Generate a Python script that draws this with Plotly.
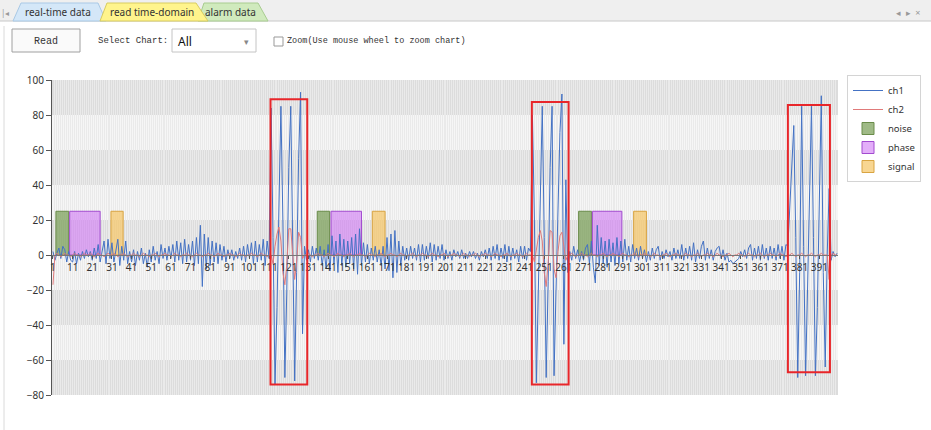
import plotly.graph_objects as go

# sample index 1..400
points = list(range(1, 401))

ch1 = [
    2, -3, 1, 4, -2, 5, 3, -4, 2, -3, -4, 2, -5, 1, -3, 2, -2, 3, -1, 2,
    -3, 4, -2, 6, -4, 3, 8, -5, 9, -2, 7, -4, 3, 9, -6, 5, -3, 8, -5, 2,
    -4, 3, -6, 2, -3, 4, -5, 1, -7, 3, -4, 5, -3, 2, -5, 6, -2, 4, -3, 5,
    -2, 6, -4, 8, -3, 7, -5, 9, -4, 6, -3, 8, -6, 10, -5, 17, -18, 12, -8, 10,
    -6, 8, -4, 7, -5, 6, -3, 5, -4, 3, -2, 3, -3, 2, -2, 4, -3, 5, -4, 6,
    -2, 7, -5, 8, -4, 6, -3, 9, -6, 8, -2, 84, 10, -74, -30, 40, 85, 20, -70, -20,
    50, 85, 0, -72, -10, 55, 93, -45, 5, -3, 3, -4, 5, -2, 4, -3, 5, -6, 3, -8,
    6, -9, 11, -5, 8, -10, 12, -6, 9, -7, 8, -5, 10, -8, 12, -11, 15, -6, 7, -4,
    6, -5, 4, -3, 5, -4, 3, -6, 5, -8, 10, -9, 12, -13, 14, -10, 8, -6, 5, -3,
    4, -3, 5, -2, 4, -3, 6, -4, 6, -3, 5, -2, 7, -4, 6, -3, 5, -2, 6, -3,
    3, -2, 2, -3, 3, -1, 2, -2, 3, -2, 1, -2, 2, -1, 2, -2, 1, -3, 2, -1,
    3, -2, 4, -3, 5, -2, 6, -3, 4, -2, 6, -4, 5, -3, 4, -2, 3, -4, 5, -2,
    5, -3, 4, 2, 80, 20, -73, -20, 40, 85, 10, -70, -15, 50, 85, -69, -20, 30, 70, 92,
    -51, 43, -10, 2, -3, 5, -2, 3, -4, 2, -3, 4, 6, -5, 8, -7, -16, 17, -6, 10,
    -5, 8, -7, 9, -4, 7, -6, 10, -5, 8, -4, 9, -3, 5, -4, 6, -2, 4, -3, 5,
    -2, 3, -4, 2, -3, 4, -2, 3, 5, -3, 2, -2, 3, -1, 2, -3, 4, -2, 3, -2,
    6, -3, 4, -2, 5, -3, 7, -4, 3, -2, 5, 8, -3, 4, -2, 3, -3, 2, 4, 5,
    -2, 3, -3, 1, -4, -3, -5, -4, -3, -2, 2, -1, 3, -2, 4, 6, -3, 4, -2, 5,
    -3, 6, -2, 4, -3, 5, -2, 4, -3, 6, -2, 5, -3, 6, 5, 30, 55, 74, 10, -70,
    -10, 85, 5, -69, -20, 40, 85, 10, -69, -30, 30, 91, -10, -64, 0, 38, -3, 2, -1, 1,
]

ch2 = [
    -17, 0, 1, 0, -1, 0, 1, 0, 0, -1, 0, 1, 0, 0, -1, 0, 1, 0, 0, 1,
    0, -1, 0, 1, 0, 0, -1, 0, 1, 0, 0, 1, 0, -1, 0, 0, 1, 0, -1, 0,
    0, 1, 0, 0, -1, 0, 1, 0, 0, -1, 0, 0, 1, 0, -1, 0, 0, 1, 0, 0,
    -1, 0, 1, 0, 0, -1, 0, 0, 1, 0, 0, -1, 0, 1, 0, 0, -1, 0, 0, 1,
    0, 0, -1, 0, 1, 0, 0, -1, 0, 0, 1, 0, 0, -1, 0, 1, 0, 0, -1, 0,
    0, 1, 0, 0, -1, 0, 1, 0, 0, -1, 0, 0, -5, 5, 12, 16, 8, -10, -17, -5,
    15, 15, 0, -14, -4, 13, 10, -2, 0, 0, 1, 0, -1, 0, 0, 1, 0, 0, -1, 0,
    1, 0, 0, -1, 0, 1, 0, 0, -1, 0, 0, 1, 0, -1, 0, 0, 1, 0, 0, -1,
    0, 1, 0, 0, -1, 0, 0, 1, 0, -1, 0, 0, 1, 0, 0, -1, 0, 1, 0, 0,
    -1, 0, 0, 1, 0, -1, 0, 0, 1, 0, 0, -1, 0, 1, 0, 0, -1, 0, 0, 1,
    0, -1, 0, 0, 1, 0, 0, -1, 0, 1, 0, 0, -1, 0, 0, 1, 0, -1, 0, 0,
    1, 0, 0, -1, 0, 1, 0, 0, -1, 0, 0, 1, 0, -1, 0, 0, 1, 0, 0, -1,
    0, 1, 0, 0, 0, -4, 4, 10, 14, 8, -10, -18, -4, 14, 13, -8, -13, 2, 11, 13,
    5, -3, 0, 0, 1, 0, -1, 0, 0, 1, 0, 0, -1, 0, 1, 0, 0, -1, 0, 0,
    1, 0, -1, 0, 0, 1, 0, 0, -1, 0, 1, 0, 0, -1, 0, 0, 1, 0, -1, 0,
    0, 1, 0, 0, -1, 0, 1, 0, 0, -1, 0, 0, 1, 0, -1, 0, 0, 1, 0, 0,
    -1, 0, 1, 0, 0, -1, 0, 0, 1, 0, -1, 0, 0, 1, 0, 0, -1, 0, 1, 0,
    0, -1, 0, 0, 1, 0, -1, 0, 0, 1, 0, 0, -1, 0, 1, 0, 0, -1, 0, 0,
    1, 0, -1, 0, 0, 1, 0, 0, -1, 0, 1, 0, 0, -1, 0, 0, 1, 0, -1, 0,
    0, 1, 0, -1, 0, 0, 1, 0, -1, 0, 0, 1, 0, 0, 0, -14, 0, 1, 0, 0,
]

# marked segments (start, end in sample units), all at level 25
seg_level = 25
noise_start = [2.5, 135.5, 268.5]
noise_end = [9.0, 141.8, 275.0]
phase_start = [9.5, 142.5, 275.5]
phase_end = [25.0, 158.0, 290.5]
signal_start = [30.5, 163.5, 296.5]
signal_end = [36.7, 170.0, 303.0]

# red alarm boxes
box_x0 = [111.7, 244.7, 375.0]
box_x1 = [130.4, 263.4, 396.4]
box_top = [89, 87.4, 85.7]
box_bottom = [-74, -74, -67]

y_ticks = [-80, -60, -40, -20, 0, 20, 40, 60, 80, 100]
x_ticks = list(range(1, 400, 10))

# plot area in pixels (931x430 page)
L, R, T, B = 52, 838, 80, 395


def px(x):
    return (x - L) / (R - L)


def py(y):
    return (B - y) / (B - T)


fig = go.Figure()

fig.add_trace(go.Scatter(x=points, y=ch1, name="ch1", mode="lines",
                         line=dict(color="#4472C4", width=1)))
fig.add_trace(go.Scatter(x=points, y=ch2, name="ch2", mode="lines",
                         line=dict(color="#E07A7A", width=1)))


def seg_bar(name, starts, ends, fill, edge):
    return go.Bar(
        x=[(s + e) / 2 for s, e in zip(starts, ends)],
        y=[seg_level] * len(starts),
        width=[e - s for s, e in zip(starts, ends)],
        name=name,
        marker=dict(color=fill, line=dict(color=edge, width=1)),
    )


fig.add_trace(seg_bar("noise", noise_start, noise_end, "rgba(118,156,82,0.7)", "#6A8C4A"))
fig.add_trace(seg_bar("phase", phase_start, phase_end, "rgba(208,120,245,0.6)", "#A24BD0"))
fig.add_trace(seg_bar("signal", signal_start, signal_end, "rgba(245,200,110,0.75)", "#D9A441"))

shapes = []
# alternating grey bands
for lo in [80, 40, 0, -40, -80]:
    shapes.append(dict(type="rect", xref="paper", yref="y", x0=0, x1=1, y0=lo, y1=lo + 20,
                       fillcolor="#DCDCDC", line=dict(width=0), layer="below"))
# alarm boxes
for x0, x1, y0, y1 in zip(box_x0, box_x1, box_bottom, box_top):
    shapes.append(dict(type="rect", xref="x", yref="y", x0=x0, x1=x1, y0=y0, y1=y1,
                       line=dict(color="#E8262A", width=2)))

# --- window chrome (tabs, toolbar) ---
shapes.append(dict(type="rect", xref="paper", yref="paper", x0=px(0), x1=px(931),
                   y0=py(0), y1=py(21), fillcolor="#EFEFEF", line=dict(width=0)))
shapes.append(dict(type="line", xref="paper", yref="paper", x0=px(0), x1=px(931),
                   y0=py(21), y1=py(21), line=dict(color="#C8C8C8", width=1)))
tabs = [
    ([(13, 21), (21, 3), (98, 3), (106, 21)], "#D4E7F8", "#A9C9E6"),
    ([(198, 21), (204, 3), (258, 3), (268, 21)], "#D0EABD", "#A8CC90"),
    ([(100, 21), (107, 3), (196, 3), (208, 21)], "#FFF48C", "#D8CC60"),
]
for pts, fill, edge in tabs:
    path = "M " + " L ".join(f"{px(a):.5f},{py(b):.5f}" for a, b in pts) + " Z"
    shapes.append(dict(type="path", xref="paper", yref="paper", path=path,
                       fillcolor=fill, line=dict(color=edge, width=1)))
# read button, dropdown, checkbox
shapes.append(dict(type="rect", xref="paper", yref="paper", x0=px(12), x1=px(80),
                   y0=py(52), y1=py(29), fillcolor="#FAFAFA", line=dict(color="#A0A0A0", width=1)))
shapes.append(dict(type="rect", xref="paper", yref="paper", x0=px(172), x1=px(256),
                   y0=py(52), y1=py(29), fillcolor="white", line=dict(color="#C4C4C4", width=1)))
shapes.append(dict(type="rect", xref="paper", yref="paper", x0=px(274), x1=px(283),
                   y0=py(46), y1=py(37), fillcolor="white", line=dict(color="#999999", width=1)))
shapes.append(dict(type="line", xref="paper", yref="paper", x0=px(4), x1=px(4),
                   y0=py(26), y1=py(430), line=dict(color="#DADADA", width=1)))

mono = "Liberation Mono"
sans = "Noto Sans"
annotations = [
    dict(text="|◂", x=px(5), y=py(12), font=dict(size=8, color="#999999", family=sans)),
    dict(text="real-time data", x=px(58), y=py(12), font=dict(size=10, color="#333333", family=sans)),
    dict(text="read time-domain", x=px(152), y=py(12), font=dict(size=10, color="#333333", family=sans)),
    dict(text="alarm data", x=px(230), y=py(12), font=dict(size=10, color="#333333", family=sans)),
    dict(text="◂  ▸  ×", x=px(908), y=py(12), font=dict(size=9, color="#999999", family=sans)),
    dict(text="Read", x=px(46), y=py(41), font=dict(size=10, color="#333333", family=mono)),
    dict(text="Select Chart:", x=px(96), y=py(41), xanchor="left",
         font=dict(size=9, color="#333333", family=mono)),
    dict(text="All", x=px(176), y=py(41), xanchor="left",
         font=dict(size=12, color="#111111", family=sans)),
    dict(text="▾", x=px(246), y=py(41), font=dict(size=9, color="#888888", family=sans)),
    dict(text="Zoom(Use mouse wheel to zoom chart)", x=px(285), y=py(41), xanchor="left",
         font=dict(size=8.5, color="#333333", family=mono)),
]
for a in annotations:
    a.update(xref="paper", yref="paper", showarrow=False)
    a.setdefault("xanchor", "center")
    a["yanchor"] = "middle"

fig.update_layout(
    width=931,
    height=430,
    margin=dict(l=L, r=931 - R, t=T, b=430 - B, autoexpand=False),
    paper_bgcolor="white",
    plot_bgcolor="#F6F6F6",
    barmode="overlay",
    showlegend=True,
    legend=dict(x=px(847), y=py(75), xanchor="left", yanchor="top",
                bgcolor="white", bordercolor="#D4D4D4", borderwidth=1,
                font=dict(size=9.5, color="#333333", family=sans),
                tracegroupgap=0, itemwidth=30),
    font=dict(family=sans, size=10, color="#333333"),
    xaxis=dict(
        range=[0.5, 400.5],
        anchor="free",
        position=80 / 180,
        tickmode="array",
        tickvals=x_ticks,
        ticks="outside",
        ticklen=3,
        tickcolor="#555555",
        showline=True,
        linecolor="#777777",
        showgrid=True,
        gridcolor="#EAEAEA",
        minor=dict(tickmode="linear", tick0=1, dtick=1, showgrid=True,
                   gridcolor="#EAEAEA", gridwidth=1),
        zeroline=False,
        tickfont=dict(size=10, color="#333333"),
    ),
    yaxis=dict(
        range=[-80, 100],
        tickmode="array",
        tickvals=y_ticks,
        ticks="outside",
        ticklen=5,
        tickcolor="#555555",
        showline=True,
        linecolor="#555555",
        showgrid=False,
        zeroline=False,
        tickfont=dict(size=10, color="#333333"),
    ),
    shapes=shapes,
    annotations=annotations,
)

# the page body has a default 8px margin; drop it so the figure sits at the window corner
fig.write_html("out.html", config={"displayModeBar": False},
               post_script="document.body.style.margin='0';")
